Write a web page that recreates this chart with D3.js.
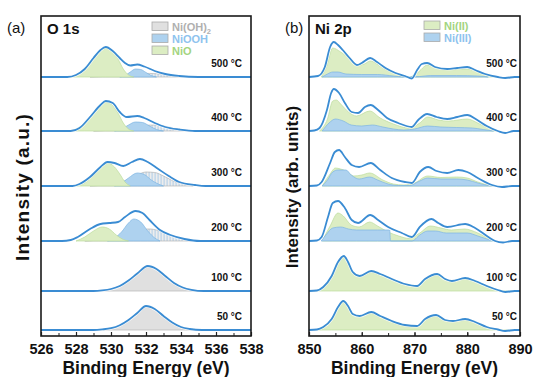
<!DOCTYPE html>
<html>
<head>
<meta charset="utf-8">
<script src="https://cdn.jsdelivr.net/npm/d3@7"></script>
<style>
  html, body { margin: 0; padding: 0; background: #fff; }
  svg text { font-family: "Liberation Sans", Arial, sans-serif; }
</style>
</head>
<body>
<div id="chart"></div>
<script>
(function() {
    // temperatures, bottom row first, and the vertical offset (a.u.) of each stacked spectrum
    const temps = ['50 °C', '100 °C', '200 °C', '300 °C', '400 °C', '500 °C'];
    const offsets = [6, 45, 95, 150, 205, 259];

    const o1sTicks = [526, 528, 530, 532, 534, 536, 538];
    const ni2pTicks = [850, 860, 870, 880, 890];

    // O 1s measured envelope, [binding energy, intensity]
    const o1sEnvelope = [
        [[526,0],[529,0],[529.5,0.6],[530,1.8],[530.5,4.8],[531,10],[531.5,17],[532,24],[532.5,21],[533,14],[533.5,7.5],[534,3],[534.5,1],[535.2,0],[538,0]],
        [[526,0],[529,0],[529.5,0.6],[530,2],[530.5,5],[531,10.5],[531.5,17.5],[532.1,25],[532.6,22],[533.1,15],[533.6,8],[534.1,3.5],[534.6,1.2],[535.3,0],[538,0]],
        [[526,0],[527.2,0],[527.7,1],[528.1,4],[528.8,12],[529.4,17],[529.9,18],[530.4,19],[530.8,24],[531.4,30],[531.8,28],[532.2,21],[532.8,11],[533.4,6],[534.2,2],[535.1,0],[538,0]],
        [[526,0],[527.8,0],[528.2,2],[528.8,9],[529.4,19],[529.8,24],[530.2,23],[530.7,20],[531.2,24],[531.65,27],[532.1,24],[532.7,17],[533.3,10],[533.9,4],[534.8,1],[535.4,0],[538,0]],
        [[526,0],[527.7,0],[528.2,3],[528.8,14],[529.4,26],[529.7,30],[530.1,28],[530.5,19],[530.9,14],[531.5,15],[531.9,13],[532.5,8],[533.1,4],[533.9,1.5],[534.8,0],[538,0]],
        [[526,0],[527.5,0],[528,2],[528.5,8],[529,19],[529.4,27],[529.7,30],[530.1,26],[530.5,19],[530.8,14],[531.1,11.5],[531.5,12.5],[531.9,10.5],[532.5,6],[533.1,3],[533.9,1],[535,0],[538,0]]
    ];
    const o1sNiO = [
        null, null,
        [[528,0],[528.5,4],[529,10],[529.5,14],[529.9,12],[530.3,6],[530.7,1.5],[531,0]],
        [[528,0],[528.5,3],[529,11],[529.4,19],[529.8,23],[530.2,19],[530.5,12],[530.8,4],[531.1,0]],
        [[527.6,0],[528,2],[528.5,8],[529,18],[529.4,26],[529.7,29],[530,27],[530.4,18],[530.7,8],[531,2],[531.3,0]],
        [[527.6,0],[528,2],[528.5,8],[529,18],[529.4,26],[529.7,29],[530,27],[530.4,18],[530.7,8],[531,2],[531.3,0]]
    ];
    const o1sNiOOH = [
        null, null,
        [[529.8,0],[530.2,3],[530.6,9],[531,18],[531.3,22],[531.7,19],[532.1,10],[532.5,3],[532.8,0]],
        [[530.2,0],[530.6,3],[531,8],[531.5,13],[531.9,11.5],[532.3,6],[532.7,2],[533,0]],
        [[530.2,0],[530.6,2],[531,6],[531.4,9],[531.8,8.5],[532.2,5],[532.6,1.5],[533,0]],
        [[530.5,0],[530.8,1.5],[531.1,5],[531.4,8],[531.7,7.5],[532,4.5],[532.3,1.5],[532.6,0]]
    ];
    const o1sNiOH2 = [
        o1sEnvelope[0], o1sEnvelope[1],
        [[528.5,0],[529.3,1],[530,3],[530.6,6],[531.2,9.5],[531.8,11.8],[532.2,12],[532.7,10.5],[533.3,6.5],[533.9,3],[534.6,0.8],[535,0]],
        [[528.8,0],[529.6,1],[530.4,3],[531,6.5],[531.5,11],[532,14],[532.5,13.5],[533,10],[533.5,5.5],[534,2.5],[534.7,0]],
        [[529,0],[530,1],[531,3.5],[532,5.8],[532.6,6],[533.3,4],[534,1.5],[534.6,0]],
        [[528.8,0],[529.5,0.5],[530.5,1.8],[531.5,3.2],[532.2,3.6],[533,2.6],[533.8,1],[534.5,0]]
    ];

    // Ni 2p measured envelope
    const ni2pEnvelope = [
        [[850,0],[851.5,0.5],[852.7,3],[854.3,11],[855.5,23],[856.5,29],[857.4,24],[858.3,16],[859.6,14],[861.8,18],[863.5,14],[865.7,9],[868.2,5],[870.5,4],[872,11],[874.1,15],[875.8,10],[877.3,9],[879.6,11],[881.5,8],[883.7,3],[885.8,0.5],[887.2,-1],[889,0],[890,0]],
        [[850,0],[851.5,0.5],[852.7,4],[854.3,15],[855.5,29],[856.6,35],[857.4,29],[858.3,19],[859.6,15],[861.8,20],[863.5,17],[865.7,12],[868.2,7],[870.5,5],[872,12],[874.3,17],[875.8,12],[877.1,10],[879.6,13],[881.5,10],[883.7,5],[885.8,1],[887.2,-1],[889,0],[890,0]],
        [[850,0],[851.5,0.5],[852.4,4],[853.6,24],[854.5,38],[855.5,40],[856.8,33],[858.1,21],[859.3,18],[861.6,26],[863.1,21],[865,14],[867.6,8],[869.5,4],[871,14],[873.2,22],[874.5,18],[876.2,14],[879.6,17],[881.5,13],[884,4],[885.3,0],[886.8,-1.5],[888.5,0],[890,0]],
        [[850,0],[851.5,0.5],[852.4,4],[854,23],[854.9,34],[855.7,36],[856.8,29],[858.1,21],[859.5,19],[861.7,23],[863.5,16],[865.7,8],[868.2,4],[869.5,3],[871,14],[872.6,19],[874.2,15],[876.2,13],[878.3,16],[880,14],[882,8],[884.7,1],[886.6,-1],[888.5,0],[890,0]],
        [[850,0],[851,0.5],[852,3],[853.4,21],[854.2,38],[854.7,42],[855.7,38],[856.8,28],[858.1,19],[859.3,18],[860.6,24],[861.7,26],[863.1,21],[864.8,13],[866.9,8],[869.5,4],[870.7,11],[872.4,17],[874.2,14],[876.2,12],[878.1,14],[880,16],[881.9,11],[883.7,5],[885.8,0],[887.2,-2],[888.8,0],[890,0]],
        [[850,0],[851.7,1],[853,10],[854,30],[854.7,35],[855.5,32],[856.4,27],[857.7,19],[859.1,12],[860,14],[861.6,19],[862.9,15],[864.5,9],[866.4,4],[868.2,1],[869.5,-1.5],[870.5,7],[871.4,13],[872.4,14],[873.9,10],[876.2,8],[878.1,9],[880,10],[881.5,7],[883.4,3],[885.8,0],[887.2,-1],[889,0],[890,0]]
    ];
    const ni2pNiII = [
        ni2pEnvelope[0], ni2pEnvelope[1],
        [[852.5,0],[854,15],[855.5,28],[856.5,25],[858,16],[859.5,14],[861.5,19],[863,15],[865,9],[867,5],[869,2.5],[871,8],[873,15],[875,13],[877,11],[879.5,12],[882,8],[884,3],[885.5,0]],
        [[852.5,0],[854,12],[855,18],[856,17],[857,15],[858.5,10],[860,11],[861.5,13],[864,6],[866,2],[868,1],[870,3],[872.5,10],[875,8.5],[878,9],[880,8],[882,4],[884,1],[885,0]],
        [[852,0],[853.5,12],[854.5,30],[855.2,31],[856,27],[857.5,19],[859,15],[861.5,20],[863.5,13],[866,7],[869,3],[871,8],[872.5,14],[874.5,11],[876.5,10],[880,12],[882,8],[884,3],[885.5,0]],
        [[852.3,0],[853.3,10],[854.5,29],[856,25],[858,17],[859.3,12],[860.5,13],[861.6,16],[864,9],[867,2],[869,0],[870.5,4],[872.5,12],[874,9],[876,7],[880,8],[882,5],[884,2],[885.5,0]]
    ];
    const ni2pNiIII = [
        null, null,
        [[852.3,0],[853.2,6],[854.5,13],[856,14],[857.5,12],[859,11],[861,11],[863,11],[865.3,11],[865.45,0],[869.5,0],[871,6],[872.5,10],[874,10],[876,8],[878,8],[880,8],[882,5],[884,1.5],[885,0]],
        [[852.5,0],[853.5,6],[854.5,14],[855.5,16],[857,16],[858,11],[859.5,7],[861.5,9],[863,6],[865,2],[867,0.5],[869,0.5],[871,5],[872.5,8],[875,7],[878,7],[880,6],[882,3],[884,0.5],[885,0]],
        [[852.5,0],[853.8,8],[855,12],[856.5,10],[858,6],[860,5],[862,6],[864,4],[866,2],[868,1],[870,2],[872.5,5],[875,4],[878,3.5],[881,3],[883,1.5],[885,0]],
        [[852.5,0],[853.5,3],[854.5,5],[855.5,5],[857,3],[860,2.5],[863,2.5],[866,1],[868,0],[871,0.5],[873,1.5],[878,1.5],[882,1],[884,0]]
    ];

    const col = {
        line: '#3a8cd3',
        green: '#dcedc3', greenEdge: '#bcdc9c',
        blue: '#aed2ef', blueEdge: '#7db5e3',
        gray: '#e0e0e0', grayEdge: '#b5b5b5'
    };

    const W = 533, H = 377;
    const top = 16, bottom = 336;
    const svg = d3.select('#chart').append('svg').attr('width', W).attr('height', H);

    const defs = svg.append('defs');
    const pat = defs.append('pattern').attr('id', 'hatch').attr('patternUnits', 'userSpaceOnUse')
        .attr('width', 3).attr('height', 4);
    pat.append('rect').attr('width', 3).attr('height', 4).attr('fill', '#ededed');
    pat.append('rect').attr('x', 1.5).attr('width', 1.2).attr('height', 4).attr('fill', '#b9d3ea');

    const y = d3.scaleLinear().domain([0, bottom - top]).range([bottom, top]);

    function drawPanel(cfg) {
        const x = d3.scaleLinear().domain(cfg.domain).range([cfg.left, cfg.right]);
        const g = svg.append('g');

        offsets.forEach((off, i) => {
            const area = d3.area().curve(d3.curveMonotoneX)
                .x(d => x(d[0])).y0(y(off)).y1(d => y(off + Math.max(0, d[1])));
            const line = d3.line().curve(d3.curveMonotoneX)
                .x(d => x(d[0])).y(d => y(off + d[1]));

            cfg.layers.forEach(l => {
                const pts = l.data[i];
                if (!pts) return;
                const fill = typeof l.fill === 'function' ? l.fill(i) : l.fill;
                g.append('path').attr('d', area(pts)).attr('fill', fill)
                    .attr('stroke', l.edge).attr('stroke-width', 0.7);
            });

            g.append('path').attr('d', line(cfg.envelope[i])).attr('fill', 'none')
                .attr('stroke', '#fff').attr('stroke-width', 3.2).attr('stroke-opacity', 0.8);
            g.append('path').attr('d', line(cfg.envelope[i])).attr('fill', 'none')
                .attr('stroke', col.line).attr('stroke-width', 1.8);

            g.append('text').attr('x', cfg.labelX).attr('y', y(off) - 10)
                .attr('text-anchor', 'end').style('font-size', '10px').style('font-weight', 'bold')
                .attr('fill', '#111').text(temps[i]);
        });

        // axes, ticks pointing inward
        const minor = d3.range(cfg.domain[0], cfg.domain[1] + 0.001, cfg.minorStep);
        svg.append('g').attr('transform', `translate(0,${bottom})`)
            .call(d3.axisBottom(x).tickValues(minor).tickSize(-3).tickFormat(''))
            .call(a => a.select('.domain').remove())
            .call(a => a.selectAll('line').attr('stroke', '#222').attr('stroke-width', 1));
        svg.append('g').attr('transform', `translate(0,${bottom})`)
            .call(d3.axisBottom(x).tickValues(cfg.ticks).tickSize(-4).tickPadding(8).tickFormat(d3.format('d')))
            .call(a => a.select('.domain').remove())
            .call(a => a.selectAll('line').attr('stroke', '#222').attr('stroke-width', 1.2))
            .call(a => a.selectAll('text').attr('fill', '#111')
                .style('font-size', '14.5px').style('font-weight', 'bold')
                .style('font-family', '"Liberation Sans", Arial, sans-serif'));

        svg.append('rect').attr('x', cfg.left).attr('y', top)
            .attr('width', cfg.right - cfg.left).attr('height', bottom - top)
            .attr('fill', 'none').attr('stroke', '#1a1a1a').attr('stroke-width', 1.6);

        svg.append('text').attr('x', (cfg.left + cfg.right) / 2 - 0).attr('y', 374)
            .attr('text-anchor', 'middle').style('font-size', '17.5px').style('font-weight', 'bold')
            .attr('fill', '#111').text('Binding Energy (eV)');

        svg.append('text').attr('transform', `translate(${cfg.yTitleX},187) rotate(-90)`)
            .attr('text-anchor', 'middle').style('font-size', cfg.yTitleSize).style('font-weight', 'bold')
            .style('letter-spacing', cfg.yTitleSpacing).attr('fill', '#111').text(cfg.yTitle);

        svg.append('text').attr('x', cfg.tagX).attr('y', 33).style('font-size', '15px')
            .attr('fill', '#111').text(cfg.tag);
        svg.append('text').attr('x', cfg.left + 6).attr('y', 34).style('font-size', '15px')
            .style('font-weight', 'bold').attr('fill', '#111').text(cfg.title);

        const lg = svg.append('g');
        cfg.legend.forEach((it, k) => {
            const ly = cfg.legendY + k * 12;
            lg.append('rect').attr('x', cfg.legendX).attr('y', ly).attr('width', 16).attr('height', 8.5)
                .attr('fill', it.fill).attr('stroke', '#aaa').attr('stroke-width', 0.8);
            const t = lg.append('text').attr('x', cfg.legendX + 20).attr('y', ly + 8.5)
                .style('font-size', '11px').style('font-weight', 'bold').attr('fill', it.color).text(it.name);
            if (it.sub) t.append('tspan').attr('dy', 3).style('font-size', '7.5px').text(it.sub);
        });
    }

    drawPanel({
        domain: [526, 538], left: 41, right: 251, ticks: o1sTicks, minorStep: 1,
        envelope: o1sEnvelope,
        layers: [
            { data: o1sNiOH2, fill: i => i < 2 ? col.gray : 'url(#hatch)', edge: col.grayEdge },
            { data: o1sNiOOH, fill: col.blue, edge: col.blueEdge },
            { data: o1sNiO, fill: col.green, edge: col.greenEdge }
        ],
        labelX: 242, yTitle: 'Intensity (a.u.)', yTitleX: 29, yTitleSize: '19px', yTitleSpacing: '1.2px',
        tag: '(a)', tagX: 7, title: 'O 1s',
        legendX: 152, legendY: 22,
        legend: [
            { name: 'Ni(OH)', sub: '2', fill: col.gray, color: '#b0b0b0' },
            { name: 'NiOOH', fill: col.blue, color: '#8ec3ee' },
            { name: 'NiO', fill: col.green, color: '#a3d47f' }
        ]
    });

    drawPanel({
        domain: [850, 890], left: 309, right: 520, ticks: ni2pTicks, minorStep: 5,
        envelope: ni2pEnvelope,
        layers: [
            { data: ni2pNiII, fill: col.green, edge: col.greenEdge },
            { data: ni2pNiIII, fill: col.blue, edge: col.blueEdge }
        ],
        labelX: 517, yTitle: 'Intensity (arb. units)', yTitleX: 298, yTitleSize: '17px', yTitleSpacing: '0px',
        tag: '(b)', tagX: 285, title: 'Ni 2p',
        legendX: 424, legendY: 21,
        legend: [
            { name: 'Ni(II)', fill: col.green, color: '#a3d47f' },
            { name: 'Ni(III)', fill: col.blue, color: '#8ec3ee' }
        ]
    });
})();
</script>
</body>
</html>
